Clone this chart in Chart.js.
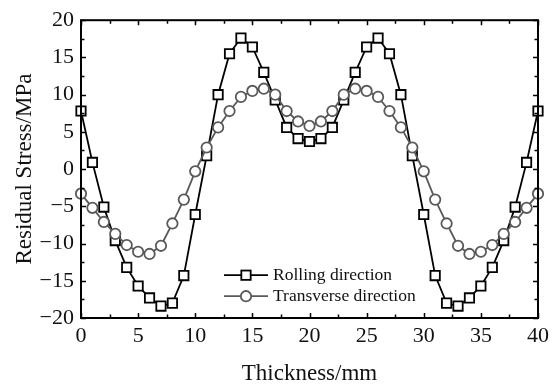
<!DOCTYPE html>
<html lang="en">
<head>
    <meta charset="UTF-8">
    <title>Residual Stress vs Thickness</title>
    <style>
        body {
            margin: 0;
            background: #fff;
        }
        .chart-box {
            width: 558px;
            height: 388px;
        }
    </style>
    <script src="https://cdn.jsdelivr.net/npm/chart.js"></script>
</head>
<body>
    <div class="chart-box">
        <canvas id="stressChart"></canvas>
    </div>

    <script>
        // Data (thickness in mm, stress in MPa)
        const thickness = [0, 1, 2, 3, 4, 5, 6, 7, 8, 9, 10, 11, 12, 13, 14, 15, 16, 17, 18, 19, 20,
            21, 22, 23, 24, 25, 26, 27, 28, 29, 30, 31, 32, 33, 34, 35, 36, 37, 38, 39, 40];
        const rolling = [7.8, 0.9, -5.1, -9.6, -13.2, -15.7, -17.3, -18.4, -18.0, -14.3, -6.1,
            1.8, 10.0, 15.5, 17.6, 16.4, 13.0, 9.3, 5.6, 4.1, 3.7,
            4.1, 5.6, 9.3, 13.0, 16.4, 17.6, 15.5, 10.0, 1.8, -6.1,
            -14.3, -18.0, -18.4, -17.3, -15.7, -13.2, -9.6, -5.1, 0.9, 7.8];
        const transverse = [-3.3, -5.2, -7.1, -8.7, -10.2, -11.1, -11.4, -10.3, -7.3, -4.1, -0.3,
            2.9, 5.6, 7.8, 9.7, 10.5, 10.8, 10.0, 7.8, 6.4, 5.8,
            6.4, 7.8, 10.0, 10.8, 10.5, 9.7, 7.8, 5.6, 2.9, -0.3,
            -4.1, -7.3, -10.3, -11.4, -11.1, -10.2, -8.7, -7.1, -5.2, -3.3];
        const seriesNames = ['Rolling direction', 'Transverse direction'];
        const xTickLabels = [0, 5, 10, 15, 20, 25, 30, 35, 40];
        const yTickLabels = [-20, -15, -10, -5, 0, 5, 10, 15, 20];

        const serif = '"Times New Roman", "Liberation Serif", serif';
        const grey = '#595959';

        function toPoints(ys) {
            return thickness.map((x, i) => ({ x: x, y: ys[i] }));
        }

        function fmt(v) {
            return v < 0 ? '\u2212' + Math.abs(v) : String(v);
        }

        // Box around the plot with inward ticks on all four sides
        const frameTicks = {
            id: 'frameTicks',
            afterDatasetsDraw(chart) {
                const { ctx, chartArea: a, scales } = chart;
                const xs = scales.x, ys = scales.y;
                ctx.save();
                ctx.strokeStyle = '#000';
                ctx.lineWidth = 1.5;
                for (let v = 0; v <= 40; v += 2.5) {
                    const px = Math.round(xs.getPixelForValue(v)) + 0.5;
                    const len = v % 5 === 0 ? 5 : 3.5;
                    ctx.beginPath();
                    ctx.moveTo(px, a.bottom); ctx.lineTo(px, a.bottom - len);
                    ctx.moveTo(px, a.top); ctx.lineTo(px, a.top + len);
                    ctx.stroke();
                }
                for (let v = -20; v <= 20; v += 2.5) {
                    const py = Math.round(ys.getPixelForValue(v)) + 0.5;
                    const len = v % 5 === 0 ? 5 : 3.5;
                    ctx.beginPath();
                    ctx.moveTo(a.left, py); ctx.lineTo(a.left + len, py);
                    ctx.moveTo(a.right, py); ctx.lineTo(a.right - len, py);
                    ctx.stroke();
                }
                ctx.lineWidth = 2;
                ctx.strokeRect(a.left, a.top, a.right - a.left, a.bottom - a.top);
                ctx.restore();
            }
        };

        // Legend: short line with the marker in the middle, then the label
        const lineLegend = {
            id: 'lineLegend',
            afterDraw(chart) {
                const { ctx, chartArea: a } = chart;
                const x0 = a.left + 143, x1 = a.left + 187;
                const rowsY = [a.top + 255, a.top + 276];
                ctx.save();
                ctx.font = '17.5px ' + serif;
                ctx.textBaseline = 'middle';
                ctx.textAlign = 'left';
                chart.data.datasets.forEach((ds, i) => {
                    const y = rowsY[i];
                    const mx = (x0 + x1) / 2;
                    ctx.strokeStyle = ds.borderColor;
                    ctx.lineWidth = ds.borderWidth;
                    ctx.beginPath();
                    ctx.moveTo(x0, y); ctx.lineTo(x1, y);
                    ctx.stroke();
                    ctx.fillStyle = '#fff';
                    ctx.lineWidth = ds.pointBorderWidth;
                    if (ds.pointStyle === 'rect') {
                        const s = ds.pointRadius * Math.SQRT1_2;
                        ctx.fillRect(mx - s, y - s, 2 * s, 2 * s);
                        ctx.strokeRect(mx - s, y - s, 2 * s, 2 * s);
                    } else {
                        ctx.beginPath();
                        ctx.arc(mx, y, ds.pointRadius, 0, Math.PI * 2);
                        ctx.fill();
                        ctx.stroke();
                    }
                    ctx.fillStyle = '#111';
                    ctx.fillText(ds.label, x1 + 5, y);
                });
                ctx.restore();
            }
        };

        const ctx = document.getElementById('stressChart').getContext('2d');
        const chart = new Chart(ctx, {
            type: 'line',
            data: {
                datasets: [{
                    label: seriesNames[0],
                    data: toPoints(rolling),
                    borderColor: '#000',
                    backgroundColor: '#fff',
                    borderWidth: 1.8,
                    pointStyle: 'rect',
                    pointRadius: 6.6,
                    pointBorderWidth: 1.8,
                    pointBackgroundColor: '#fff',
                    pointBorderColor: '#000',
                    tension: 0,
                    clip: false,
                    order: 2
                }, {
                    label: seriesNames[1],
                    data: toPoints(transverse),
                    borderColor: grey,
                    backgroundColor: '#fff',
                    borderWidth: 1.8,
                    pointStyle: 'circle',
                    pointRadius: 5.2,
                    pointBorderWidth: 1.8,
                    pointBackgroundColor: '#fff',
                    pointBorderColor: grey,
                    tension: 0,
                    clip: false,
                    order: 1
                }]
            },
            options: {
                responsive: true,
                maintainAspectRatio: false,
                animation: false,
                layout: { padding: { left: 0, top: 20, right: 20, bottom: 0 } },
                plugins: {
                    legend: { display: false },
                    tooltip: { enabled: false }
                },
                scales: {
                    x: {
                        type: 'linear',
                        min: 0,
                        max: 40,
                        afterFit: (s) => { s.height = 70; },
                        afterBuildTicks: (s) => { s.ticks = xTickLabels.map(v => ({ value: v })); },
                        grid: { display: false, drawTicks: false },
                        border: { display: false },
                        ticks: {
                            color: '#111',
                            padding: 5,
                            maxRotation: 0,
                            font: { family: serif, size: 22 },
                            callback: (v) => fmt(v)
                        },
                        title: {
                            display: true,
                            text: 'Thickness/mm',
                            color: '#111',
                            padding: { top: 0, bottom: 0 },
                            font: { family: serif, size: 23 }
                        }
                    },
                    y: {
                        type: 'linear',
                        min: -20,
                        max: 20,
                        afterFit: (s) => { s.width = 81; },
                        afterBuildTicks: (s) => { s.ticks = yTickLabels.map(v => ({ value: v })); },
                        grid: { display: false, drawTicks: false },
                        border: { display: false },
                        ticks: {
                            color: '#111',
                            padding: 7,
                            font: { family: serif, size: 22 },
                            callback: (v) => fmt(v)
                        },
                        title: {
                            display: true,
                            text: 'Residual Stress/MPa',
                            color: '#111',
                            padding: { top: 11, bottom: 0 },
                            font: { family: serif, size: 23 }
                        }
                    }
                }
            },
            plugins: [frameTicks, lineLegend]
        });
    </script>
</body>
</html>
